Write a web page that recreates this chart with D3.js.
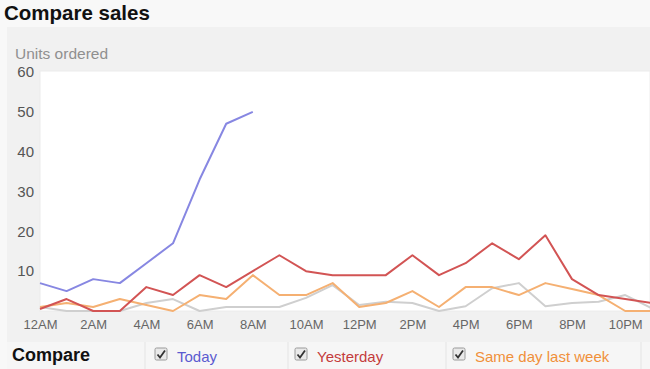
<!DOCTYPE html>
<html><head><meta charset="utf-8">
<script src="https://cdn.jsdelivr.net/npm/d3@7"></script>
<style>
html,body{margin:0;padding:0;background:#f7f7f7;}
svg{display:block;font-family:"Liberation Sans",Arial,sans-serif;}
</style></head>
<body><svg id="c" width="650" height="369"></svg>
<script>
const hours = d3.range(24);
const today = [7,5,8,7,12,17,33,47,50];
const yesterday = [0.5,3,0,0,6,4,9,6,10,14,10,9,9,9,14,9,12,17,13,19,8,4,3,2];
const lastWeek = [1,2,1,3,1.5,0,4,3,9,4,4,7,1,2,5,1,6,6,4,7,5.5,4,0,0];
const otherDay = [1,0,0,0,2,3,0,1,1,1,3.3,6.5,1.5,2.3,2,0,1.2,5.7,7,1.2,2,2.3,4,0.7];
const yTicks = [10,20,30,40,50,60];
const xTickHours = [0,2,4,6,8,10,12,14,16,18,20,22];
const xTickLabels = ["12AM","2AM","4AM","6AM","8AM","10AM","12PM","2PM","4PM","6PM","8PM","10PM"];
const legendItems = ["Today","Yesterday","Same day last week"];
const legendColors = ["#5b5bd0","#c43c3c","#f0903a"];
const lineColors = {today:"#8787e2", yesterday:"#d25454", lastWeek:"#f5b072", other:"#cfcfcf"};

const svg = d3.select("#c");
svg.append("rect").attr("x",0).attr("y",0).attr("width",650).attr("height",369).attr("fill","#f8f8f8");
svg.append("rect").attr("x",7).attr("y",27).attr("width",643).attr("height",315).attr("fill","#f1f1f1");
svg.append("rect").attr("x",7).attr("y",342).attr("width",643).attr("height",27).attr("fill","#f6f6f6");

svg.append("text").attr("x",4).attr("y",20).attr("font-size",20.5).attr("font-weight","bold").attr("fill","#111").text("Compare sales");
svg.append("text").attr("x",15).attr("y",59).attr("font-size",15.5).attr("fill","#8f8f8f").text("Units ordered");

const x = d3.scaleLinear().domain([0,23]).range([40,651.8]);
const y = d3.scaleLinear().domain([0,60]).range([311,72]);

svg.append("rect").attr("x",40).attr("y",71).attr("width",610).attr("height",240).attr("fill","#ffffff").attr("stroke","#ececec");

const yAxis = svg.append("g").attr("transform","translate(40,0)")
  .call(d3.axisLeft(y).tickValues(yTicks).tickSize(0).tickPadding(6));
yAxis.select(".domain").remove();
yAxis.selectAll("text").attr("font-size",15).attr("fill","#555").attr("font-family","Liberation Sans,Arial,sans-serif");

const xAxis = svg.append("g").attr("transform","translate(0,311)")
  .call(d3.axisBottom(x).tickValues(xTickHours).tickFormat((d,i)=>xTickLabels[i]).tickSize(0).tickPadding(9));
xAxis.select(".domain").remove();
xAxis.selectAll("text").attr("font-size",13).attr("fill","#666").attr("font-family","Liberation Sans,Arial,sans-serif");

const line = d3.line().x((d,i)=>x(i)).y(d=>y(d));
const g = svg.append("g");
[[otherDay,lineColors.other],[lastWeek,lineColors.lastWeek],[yesterday,lineColors.yesterday],[today,lineColors.today]].forEach(([data,col])=>{
  g.append("path").datum(data).attr("d",line).attr("fill","none").attr("stroke",col).attr("stroke-width",2).attr("stroke-linejoin","round");
});

svg.append("text").attr("x",12).attr("y",361).attr("font-size",18).attr("font-weight","bold").attr("fill","#111").text("Compare");
[145,288,446,641].forEach(sx=>svg.append("line").attr("x1",sx).attr("x2",sx).attr("y1",342).attr("y2",369).attr("stroke","#e4e4e4"));
const boxX = [155,295,453];
legendItems.forEach((t,i)=>{
  const gx = svg.append("g").attr("transform",`translate(${boxX[i]},348)`);
  gx.append("rect").attr("width",12).attr("height",12).attr("rx",1.5).attr("fill","#e9e9e9").attr("stroke","#9a9a9a");
  gx.append("path").attr("d","M2.5,6.5 L5,9.5 L10,2.5").attr("fill","none").attr("stroke","#333").attr("stroke-width",1.8);
  svg.append("text").attr("x",boxX[i]+22).attr("y",362).attr("font-size",15).attr("fill",legendColors[i]).text(t);
});
</script></body></html>
